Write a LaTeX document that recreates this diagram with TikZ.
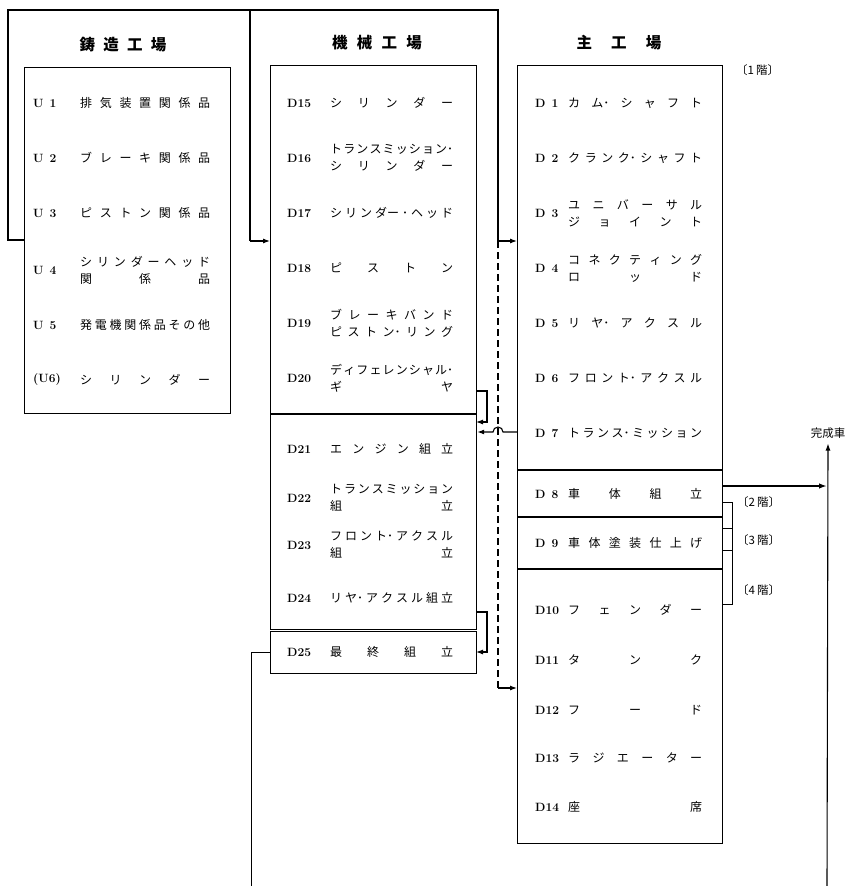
\documentclass[tikz,border=0pt]{standalone}
\usepackage{fontspec}
\newfontfamily\jp{Noto Sans CJK JP}
\usetikzlibrary{arrows.meta}
% spread characters evenly across a given width
\def\jspend{\jspend}
\def\jspendmac{\jspend}
\def\jspread#1{\jsploop#1\jspend}
\def\jsploop#1{\def\jsptmp{#1}\ifx\jsptmp\jspendmac\else#1\hfill\expandafter\jsploop\fi}
\newcommand\sline[2]{\makebox[#1][s]{\jspread{#2}\unskip}}
\begin{document}
\begin{tikzpicture}[x=1pt,y=-1pt,
  box/.style={draw, line width=1.2pt, rectangle, anchor=north west, inner sep=0pt},
  lab/.style={anchor=west, inner sep=0pt, font=\fontsize{12}{14}\selectfont\bfseries},
  itm/.style={anchor=west, inner sep=0pt, align=left, font=\jp\fontsize{12}{17}\selectfont},
  ttl/.style={inner sep=0pt, font=\jp\bfseries\fontsize{15.5}{18}\selectfont},
  flr/.style={anchor=west, inner sep=0pt, font=\jp\fontsize{11.5}{13}\selectfont},
  wire/.style={line width=1.1pt},
  thin/.style={line width=0.8pt},
  arr/.style={wire, -{Latex[length=7pt,width=5pt]}},
  dsh/.style={wire, dash pattern=on 7pt off 4pt},
]
\useasboundingbox (0,0) rectangle (850,886);
\fill[white] (0,0) rectangle (850,886);

\newcommand\rowA[6]{\node[lab] (#1l) at (#2,#4) {#5}; \node[itm] (#1) at (#3,#4) {\sline{\tw}{#6}};}
\newcommand\rowB[7]{\node[lab] (#1l) at (#2,#4) {#5}; \node[itm] (#1) at (#3,#4) {\sline{\tw}{#6}\\\sline{\tw}{#7}};}

% ---------- titles ----------
\node[ttl] (t1) at (123,45) {\sline{87pt}{鋳造工場}};
\node[ttl] (t2) at (377,43) {\sline{90pt}{機械工場}};
\node[ttl] (t3) at (619,43) {\sline{85pt}{主工場}};
\node[flr] (f1) at (736,70) {〔1\,階〕};

% ---------- boxes ----------
\node[box, minimum width=206pt, minimum height=346pt] (ubox) at (24,67) {};
\node[box, minimum width=206pt, minimum height=564pt] (mbox) at (270,65) {};
\node[box, minimum width=206pt, minimum height=42pt] (d25box) at (270,631) {};
\node[box, minimum width=205pt, minimum height=778pt] (pbox) at (517,65) {};
\coordinate (mdiv) at (270,414);
\draw[wire] (mdiv) -- (mdiv -| mbox.east);
\coordinate (pdiv1) at (517,470);
\coordinate (pdiv2) at (517,517);
\coordinate (pdiv3) at (517,569);
\draw[wire] (pdiv1) -- (pdiv1 -| pbox.east);
\draw[wire] (pdiv2) -- (pdiv2 -| pbox.east);
\draw[wire] (pdiv3) -- (pdiv3 -| pbox.east);

% ---------- casting factory items ----------
\def\tw{130pt}
\rowA{u1}{33}{80}{103}{U\enspace1}{排気装置関係品}
\rowA{u2}{33}{80}{158}{U\enspace2}{ブレーキ関係品}
\rowA{u3}{33}{80}{213}{U\enspace3}{ピストン関係品}
\rowB{u4}{33}{80}{270}{U\enspace4}{シリンダーヘッド}{関係品}
\rowA{u5}{33}{80}{325}{U\enspace5}{発電機関係品その他}
\rowA{u6}{33}{80}{380}{(U6)}{シリンダー}

% ---------- machine factory items ----------
\def\tw{123pt}
\rowA{d15}{287}{330}{103}{D15}{シリンダー}
\rowB{d16}{287}{330}{158}{D16}{トランスミッショ{ン･}}{シリンダー}
\rowA{d17}{287}{330}{213}{D17}{シリン{ダー}{･}ヘッド}
\rowA{d18}{287}{330}{268}{D18}{ピストン}
\rowB{d19}{287}{330}{323}{D19}{ブレーキバンド}{ピスト{ン･}リング}
\rowB{d20}{287}{330}{378}{D20}{ディフェレンシャ{ル･}}{ギヤ}
\rowA{d21}{287}{330}{449}{D21}{エンジン組立}
\rowB{d22}{287}{330}{498}{D22}{トランスミッション}{組立}
\rowB{d23}{287}{330}{545}{D23}{フロン{ト･}アクスル}{組立}
\rowA{d24}{287}{330}{598}{D24}{リ{ヤ･}アクスル組立}
\rowA{d25}{287}{330}{652}{D25}{最終組立}

% ---------- main factory items ----------
\def\tw{134pt}
\rowA{d1}{535}{568}{103}{D\enspace1}{カ{ム･}シャフト}
\rowA{d2}{535}{568}{158}{D\enspace2}{クラン{ク･}シャフト}
\rowB{d3}{535}{568}{213}{D\enspace3}{ユニバーサル}{ジョイント}
\rowB{d4}{535}{568}{268}{D\enspace4}{コネクティング}{ロッド}
\rowA{d5}{535}{568}{323}{D\enspace5}{リ{ヤ･}アクスル}
\rowA{d6}{535}{568}{378}{D\enspace6}{フロン{ト･}アクスル}
\rowA{d7}{535}{568}{433}{D\enspace7}{トラン{ス･}ミッション}
\rowA{d8}{535}{568}{494}{D\enspace8}{車体組立}
\rowA{d9}{535}{568}{543}{D\enspace9}{車体塗装仕上げ}
\rowA{d10}{535}{568}{610}{D10}{フェンダー}
\rowA{d11}{535}{568}{660}{D11}{タンク}
\rowA{d12}{535}{568}{710}{D12}{フード}
\rowA{d13}{535}{568}{758}{D13}{ラジエーター}
\rowA{d14}{535}{568}{807}{D14}{座席}

% ---------- floor brackets ----------
\coordinate (fb1) at (722,502);
\coordinate (fb2) at (722,528);
\coordinate (fb3) at (722,550);
\coordinate (fb4) at (722,604);
\draw[thin] (fb1) -- ++(10,0) |- (fb4);
\draw[thin] (fb2) -- ++(10,0);
\draw[thin] (fb3) -- ++(10,0);
\node[flr] (f2) at (737,502) {〔2\,階〕};
\node[flr] (f3) at (737,540) {〔3\,階〕};
\node[flr] (f4) at (737,590) {〔4\,階〕};

% ---------- casting output tree ----------
\coordinate (uout) at (24,240);
\coordinate (c1) at (8,240);
\coordinate (c2) at (8,10);
\coordinate (j1) at (250,10);
\coordinate (j2) at (498,10);
\coordinate (j1b) at (250,241);
\coordinate (j2b) at (498,241);
\draw[wire] (uout) -- (c1) -- (c2) -- (j2) -- (j2b);
\draw[wire] (j1) -- (j1b);
\draw[arr] (j1b) -- (j1b -| mbox.west);
\draw[arr] (j2b) -- (j2b -| pbox.west);

% dashed branch to D10-D14
\coordinate (dsh1) at (498,688);
\draw[dsh] (j2b) -- (dsh1);
\draw[arr] (dsh1) -- (dsh1 -| pbox.west);

% D7 transmission to engine assembly, hopping over the dashed line
\coordinate (h1) at (517,432);
\draw[arr] (h1) -- (503,432) arc (0:-180:5) -- (h1 -| mbox.east);

% machine factory internal loops
\coordinate (l1a) at (476,391);
\coordinate (l1b) at (476,422);
\draw[arr] (l1a) -- ++(11,0) |- (l1b);
\coordinate (l2a) at (476,612);
\coordinate (l2b) at (476,652);
\draw[arr] (l2a) -- ++(11,0) |- (l2b);

% D25 output down
\coordinate (o25) at (251,652);
\coordinate (o25b) at (251,886);
\draw[thin] (d25box.west |- o25) -- (o25) -- (o25b);

% finished car
\node[inner sep=0pt, font=\jp\fontsize{11.5}{13}\selectfont] (done) at (828,433) {完成車};
\coordinate (cv) at (827,886);
\coordinate (cj) at (827,486);
\draw[arr] (cv) -- ([yshift=-5pt]done.south);
\draw[line width=1.8pt, -{Latex[length=8pt,width=5.5pt]}] (pbox.east |- cj) -- (cj);
\end{tikzpicture}
\end{document}
